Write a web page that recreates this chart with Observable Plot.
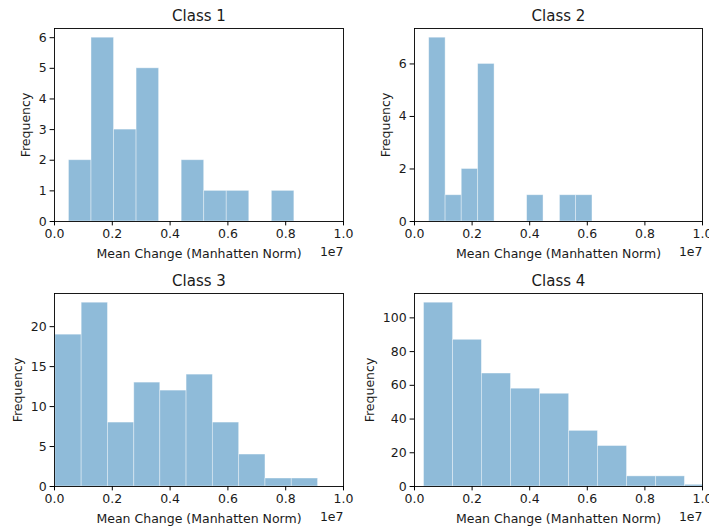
<!DOCTYPE html>
<html>
<head>
<meta charset="utf-8">
<script src="https://cdn.jsdelivr.net/npm/d3@7"></script>
<script src="https://cdn.jsdelivr.net/npm/@observablehq/plot@0.6"></script>
<style>
  html, body { margin: 0; padding: 0; background: #fff; }
  #root { position: relative; width: 709px; height: 527px; font-family: "DejaVu Sans", sans-serif; }
  #root > div { position: absolute; }
  svg { overflow: visible; }
</style>
</head>
<body>
<div id="root"></div>
<script>
// Titles
const titles = ["Class 1", "Class 2", "Class 3", "Class 4"];
const xLabel = "Mean Change (Manhatten Norm)";
const yLabel = "Frequency";
const offsetLabel = "1e7";

// Bin edges (in raw units, i.e. multiples of 1e7 shown as 0.0–1.0)
const class1Edges = [500000, 1280000, 2060000, 2840000, 3620000, 4400000, 5180000, 5960000, 6740000, 7520000, 8300000];
const class1Counts = [2, 6, 3, 5, 0, 2, 1, 1, 0, 1];

const class2Edges = [510000, 1080000, 1640000, 2210000, 2780000, 3340000, 3910000, 4480000, 5050000, 5610000, 6180000];
const class2Counts = [7, 1, 2, 6, 0, 0, 1, 0, 1, 1];

const class3Edges = [30000, 940000, 1850000, 2760000, 3660000, 4570000, 5480000, 6390000, 7300000, 8210000, 9120000];
const class3Counts = [19, 23, 8, 13, 12, 14, 8, 4, 1, 1];

const class4Edges = [330000, 1340000, 2340000, 3350000, 4360000, 5370000, 6370000, 7380000, 8390000, 9390000, 10400000];
const class4Counts = [109, 87, 67, 58, 55, 33, 24, 6, 6, 1];

// Tick values
const xTicks = [0, 2000000, 4000000, 6000000, 8000000, 10000000];
const yTicks1 = [0, 1, 2, 3, 4, 5, 6];
const yTicks2 = [0, 2, 4, 6];
const yTicks3 = [0, 5, 10, 15, 20];
const yTicks4 = [0, 20, 40, 60, 80, 100];

const panels = [
  {title: titles[0], edges: class1Edges, counts: class1Counts, yTicks: yTicks1, left: 0, top: 0, w: 354, h: 264, ml: 54, mr: 11, mt: 28, mb: 43, ylab: 29},
  {title: titles[1], edges: class2Edges, counts: class2Counts, yTicks: yTicks2, left: 355, top: 0, w: 354, h: 264, ml: 59, mr: 7, mt: 28, mb: 43, ylab: 29},
  {title: titles[2], edges: class3Edges, counts: class3Counts, yTicks: yTicks3, left: 0, top: 264, w: 354, h: 263, ml: 54, mr: 11, mt: 29, mb: 41, ylab: 37},
  {title: titles[3], edges: class4Edges, counts: class4Counts, yTicks: yTicks4, left: 355, top: 264, w: 354, h: 263, ml: 59, mr: 7, mt: 29, mb: 41, ylab: 45}
];

const root = document.getElementById("root");
const ink = "#1a1a1a";
const fs = 12.5;

for (const p of panels) {
  const bins = p.counts.map((c, i) => ({x1: p.edges[i], x2: p.edges[i + 1], count: c}));
  const ymax = d3.max(p.counts) * 1.05;
  const chart = Plot.plot({
    width: p.w,
    height: p.h,
    marginLeft: p.ml,
    marginRight: p.mr,
    marginTop: p.mt,
    marginBottom: p.mb,
    style: {fontFamily: "DejaVu Sans, sans-serif", fontSize: fs + "px", color: ink, background: "white", overflow: "visible"},
    x: {domain: [0, 10000000], label: null},
    y: {domain: [0, ymax], label: null},
    marks: [
      Plot.rectY(bins, {x1: "x1", x2: "x2", y1: 0, y2: "count", fill: "#1f77b4", fillOpacity: 0.5, stroke: "white", strokeOpacity: 0.5, strokeWidth: 0.8, clip: true}),
      Plot.frame({stroke: "black", strokeWidth: 0.9}),
      Plot.axisX({ticks: xTicks, tickFormat: d => (d / 1e7).toFixed(1), tickSize: 4.4, tickPadding: 3.5, fontSize: fs, stroke: "black", fill: ink, label: null}),
      Plot.axisY({ticks: p.yTicks, tickFormat: d => String(d), tickSize: 4.4, tickPadding: 3.5, fontSize: fs, stroke: "black", fill: ink, label: null}),
      Plot.text([p.title], {frameAnchor: "top", lineAnchor: "middle", textAnchor: "middle", dy: -12.5, fontSize: 15, fill: ink, text: d => d}),
      Plot.text([xLabel], {frameAnchor: "bottom", lineAnchor: "middle", textAnchor: "middle", dy: 32, fontSize: fs, fill: ink, text: d => d}),
      Plot.text([offsetLabel], {frameAnchor: "bottom-right", lineAnchor: "middle", dy: 30, textAnchor: "end", fontSize: fs, fill: ink, text: d => d}),
      Plot.text([yLabel], {frameAnchor: "left", lineAnchor: "middle", textAnchor: "middle", dx: -p.ylab, rotate: -90, fontSize: fs, fill: ink, text: d => d})
    ]
  });
  const wrap = document.createElement("div");
  wrap.style.left = p.left + "px";
  wrap.style.top = p.top + "px";
  wrap.appendChild(chart);
  root.appendChild(wrap);
}
</script>
</body>
</html>
